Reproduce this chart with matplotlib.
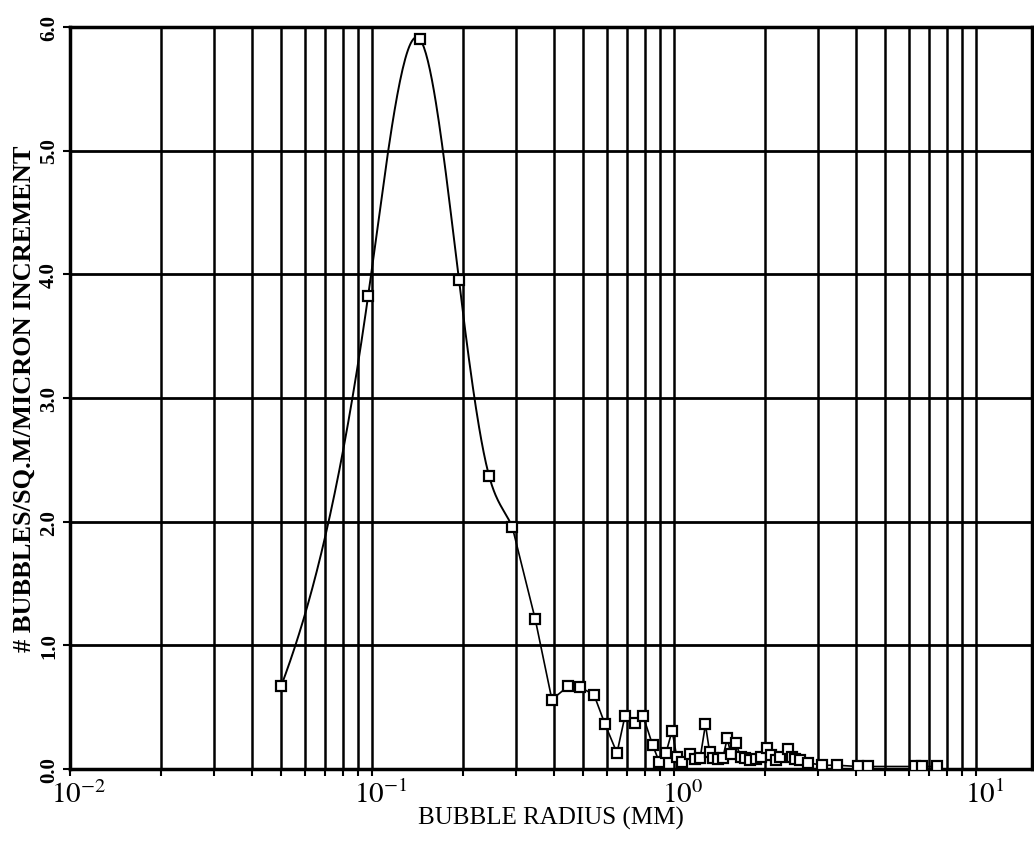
import numpy as np
import matplotlib.pyplot as plt
import matplotlib.transforms as mtransforms
from matplotlib.ticker import FixedLocator, NullFormatter

plt.rcParams['font.family'] = ['Liberation Serif', 'DejaVu Serif']
plt.rcParams['mathtext.fontset'] = 'stix'

# Bubble size distribution (radius in mm, count per sq.m per micron increment)
radius = [0.05, 0.097, 0.144, 0.194, 0.244, 0.291, 0.347, 0.394,
          0.446, 0.489, 0.543, 0.591, 0.647, 0.688, 0.743, 0.789,
          0.85, 0.892, 0.94, 0.985, 1.02, 1.06, 1.13, 1.17, 1.22,
          1.27, 1.31, 1.35, 1.40, 1.45, 1.50, 1.54, 1.60, 1.66,
          1.72, 1.79, 1.86, 1.94, 2.03, 2.10, 2.17, 2.25, 2.38,
          2.45, 2.52, 2.61, 2.78, 3.09, 3.47, 4.06, 4.39, 6.28,
          6.62, 7.43]
density = [0.67, 3.82, 5.90, 3.95, 2.37, 1.96, 1.21, 0.56,
           0.67, 0.66, 0.60, 0.36, 0.13, 0.43, 0.37, 0.43,
           0.19, 0.06, 0.13, 0.31, 0.10, 0.06, 0.12, 0.08, 0.09,
           0.36, 0.14, 0.09, 0.08, 0.09, 0.25, 0.12, 0.21, 0.10,
           0.09, 0.07, 0.08, 0.10, 0.17, 0.11, 0.07, 0.10, 0.16,
           0.10, 0.08, 0.07, 0.05, 0.03, 0.03, 0.02, 0.02, 0.02,
           0.02, 0.02]
n_smooth = 6      # first points joined by a smooth curve, the rest by straight lines
start_slope = 6.5  # d(density)/d(log10 r) where the smooth curve starts

y_ticks = [0.0, 1.0, 2.0, 3.0, 4.0, 5.0, 6.0]
x_major = [1e-2, 1e-1, 1e0, 1e1]
x_major_labels = [r'$10^{-2}$', r'$10^{-1}$', r'$10^{0}$', r'$10^{1}$']


def spline_curve(x, y, d0, steps=40):
    # cubic spline through the points in log10(x) space; slope d0 at the
    # left end, slope of the last chord at the right end
    t = np.log10(np.asarray(x, float))
    y = np.asarray(y, float)
    n = len(t)
    h = np.diff(t)
    A = np.zeros((n, n))
    b = np.zeros(n)
    A[0, :2] = [2 * h[0], h[0]]
    b[0] = 6 * ((y[1] - y[0]) / h[0] - d0)
    A[-1, -2:] = [h[-1], 2 * h[-1]]
    for i in range(1, n - 1):
        A[i, i - 1] = h[i - 1]
        A[i, i] = 2 * (h[i - 1] + h[i])
        A[i, i + 1] = h[i]
        b[i] = 6 * ((y[i + 1] - y[i]) / h[i] - (y[i] - y[i - 1]) / h[i - 1])
    M = np.linalg.solve(A, b)
    cx, cy = [], []
    for i in range(n - 1):
        s = np.linspace(t[i], t[i + 1], steps)
        a, c = t[i + 1] - s, s - t[i]
        v = (M[i] * a ** 3 + M[i + 1] * c ** 3) / (6 * h[i]) \
            + (y[i] / h[i] - M[i] * h[i] / 6) * a \
            + (y[i + 1] / h[i] - M[i + 1] * h[i] / 6) * c
        cx.extend(s)
        cy.extend(v)
    return 10 ** np.array(cx), np.array(cy)


fig = plt.figure(figsize=(10.34, 8.54), dpi=100)
ax = fig.add_axes([0.0677, 0.0984, 0.9303, 0.869])

ax.set_xscale('log')
ax.set_xlim(1e-2, 15.3)
ax.set_ylim(0, 6)

# curve
sx, sy = spline_curve(radius[:n_smooth], density[:n_smooth], start_slope)
ax.plot(sx, sy, color='black', lw=1.4, zorder=3)
ax.plot(radius[n_smooth - 1:], density[n_smooth - 1:], color='black',
        lw=1.2, zorder=3)
ax.plot(radius, density, ls='none', marker='s', ms=7.5, mfc='white',
        mec='black', mew=1.6, zorder=4)

# log grid: every decade and sub-decade line
minor = [m * 10.0 ** e for e in (-2, -1, 0, 1) for m in range(2, 10)]
minor = [v for v in minor if v < 15.3]
ax.xaxis.set_major_locator(FixedLocator(x_major))
ax.xaxis.set_minor_locator(FixedLocator(minor))
ax.set_xticklabels(x_major_labels)
ax.xaxis.set_minor_formatter(NullFormatter())
ax.set_yticks(y_ticks)
ax.set_yticklabels([f'{v:.1f}' for v in y_ticks], rotation=90,
                   va='center', fontweight='bold')

ax.grid(True, which='both', axis='x', color='black', lw=1.8)
ax.grid(True, which='major', axis='y', color='black', lw=2.0)

ax.tick_params(axis='x', which='both', direction='out', length=5, width=1.5,
               labelsize=21, pad=3)
ax.tick_params(axis='y', direction='out', length=5, width=1.5,
               labelsize=15, pad=3)
for s in ax.spines.values():
    s.set_linewidth(2.5)

# put the "10" of each power label under its tick
shift = mtransforms.ScaledTranslation(0.09, 0, fig.dpi_scale_trans)
for lbl in ax.get_xticklabels():
    lbl.set_transform(lbl.get_transform() + shift)

ax.set_xlabel('BUBBLE RADIUS (MM)', fontsize=18, labelpad=-2)
ax.set_ylabel('# BUBBLES/SQ.M/MICRON INCREMENT', fontsize=19,
              fontweight='bold', labelpad=2)

fig.savefig('out.png', dpi=100)
